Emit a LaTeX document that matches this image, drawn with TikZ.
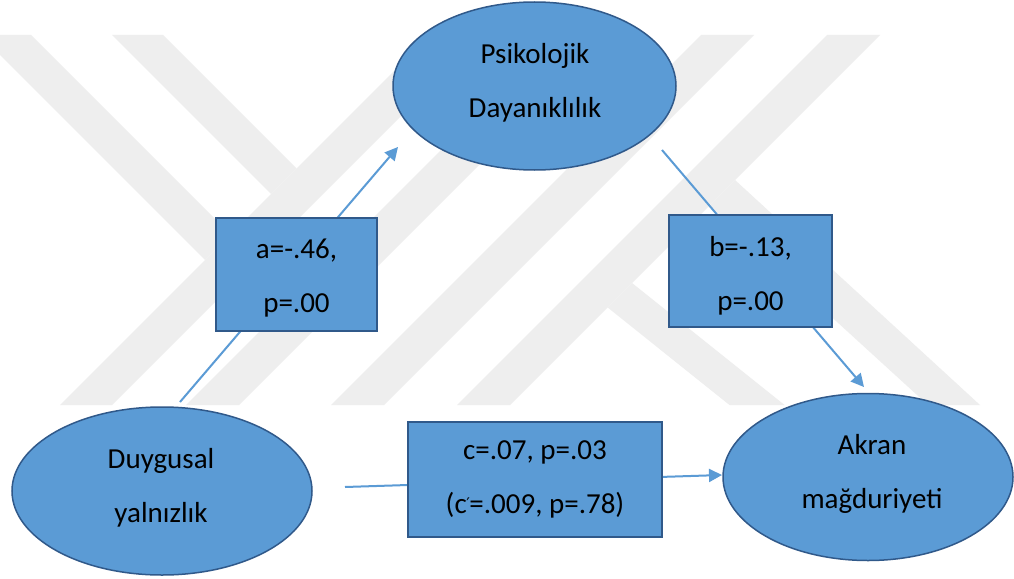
\documentclass[tikz,border=0pt]{standalone}
\usepackage{fontspec}
\setmainfont{Carlito}
\newfontfamily\primefont{DejaVu Sans}
\usetikzlibrary{arrows.meta,shapes.geometric}
\definecolor{boxfill}{HTML}{5B9BD5}
\definecolor{boxline}{HTML}{30598A}
\definecolor{wmgray}{HTML}{EEEEEE}
\newcommand\lstrut{\rule[-25pt]{0pt}{50pt}}
\newcommand\cprime{\kern-0.5pt\raisebox{4pt}{\primefont\fontsize{16}{16}\selectfont ′}\kern-0.5pt}
\begin{document}
\begin{tikzpicture}[x=1pt,y=-1pt,
  wmband/.style={fill=wmgray, draw=none},
  varnode/.style={ellipse, draw=boxline, fill=boxfill, line width=1.5pt, inner sep=0pt},
  coefnode/.style={rectangle, draw=boxline, fill=boxfill, line width=2pt, inner sep=0pt},
  lbl/.style={inner sep=0pt, align=center, text=black, font=\fontsize{29}{54}\selectfont},
  conn/.style={draw=boxfill, line width=2pt, -{Triangle[length=13pt,width=13pt]}}
]
\fill[white] (0,0) rectangle (1014,578);
\useasboundingbox (0,0) rectangle (1014,578);
% watermark
\fill[wmband] (0,35) -- (31,35) -- (230.5,234.5) -- (205,260) -- (0,55) -- cycle;
\fill[wmband] (112,35) -- (163,35) -- (296.5,168.5) -- (271,194) -- cycle;
\fill[wmband] (60,405) -- (112,405) -- (482,35) -- (430,35) -- cycle;
\fill[wmband] (186,405) -- (239,405) -- (609,35) -- (556,35) -- cycle;
\fill[wmband] (331,405) -- (384,405) -- (754,35) -- (701,35) -- cycle;
\fill[wmband] (457,405) -- (510,405) -- (880,35) -- (827,35) -- cycle;
\fill[wmband] (735,180) -- (980,405) -- (928,405) -- (709.5,205.5) -- cycle;
\fill[wmband] (632,283) -- (784.5,405) -- (729.5,405) -- (607.6,307.4) -- cycle;
% connector end points
\coordinate (aS) at (180,402);
\coordinate (aE) at (398,147);
\coordinate (bS) at (662,150);
\coordinate (bE) at (864,387);
\coordinate (cS) at (345,487);
\coordinate (cE) at (722,475);
\draw[conn] (aS) -- (aE);
\draw[conn] (bS) -- (bE);
\draw[conn] (cS) -- (cE);
% variables
\node[varnode, minimum width=283pt, minimum height=168pt] (psy) at (534.5,86) {};
\node[varnode, minimum width=300pt, minimum height=168pt] (duy) at (162,491) {};
\node[varnode, minimum width=290pt, minimum height=167pt] (akr) at (868,477) {};
% coefficient boxes
\node[coefnode, minimum width=161pt, minimum height=113pt] (boxa) at (296.5,274.5) {};
\node[coefnode, minimum width=163pt, minimum height=112pt] (boxb) at (750.5,271) {};
\node[coefnode, minimum width=254pt, minimum height=115pt] (boxc) at (535,479.5) {};
% texts
\node[lbl] (psyT) at (535,90.5) {\lstrut Psikolojik\\\lstrut Dayanıklılık};
\node[lbl] (duyT) at (161,495) {\lstrut Duygusal\\\lstrut yalnızlık};
\node[lbl] (akrT) at (872,481) {\lstrut Akran\\\lstrut mağduriyeti};
\node[lbl] (aT) at (296.5,285.5) {\lstrut a=-.46,\\\lstrut p=.00};
\node[lbl] (bT) at (750.5,283) {\lstrut b=-.13,\\\lstrut p=.00};
\node[lbl] (cT) at (535,486.5) {\lstrut c=.07, p=.03\\\lstrut (c\cprime=.009, p=.78)};
\end{tikzpicture}
\end{document}
